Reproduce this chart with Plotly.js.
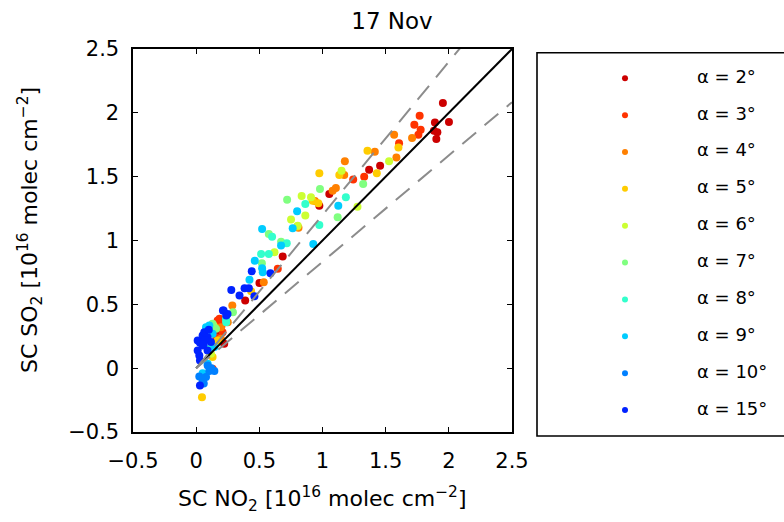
<!DOCTYPE html>
<html>
<head>
<meta charset="utf-8">
<script src="https://cdn.plot.ly/plotly-3.0.1.min.js"></script>
<style>html,body{margin:0;padding:0;background:#fff;}#chart{width:784px;height:522px;}</style>
</head>
<body>
<div id="chart"></div>
<script>
// ---- data (SC NO2 vs SC SO2, 10^16 molec cm^-2) per elevation angle ----
const legendLabels = ['α = 2°','α = 3°','α = 4°','α = 5°','α = 6°','α = 7°','α = 8°','α = 9°','α = 10°','α = 15°'];
const seriesColors = ['#CC0000','#FF3300','#FF8000','#FFCC00','#CCFF33','#80FF80','#33FFCC','#00CCFF','#0080FF','#0022FF'];

const a2x = [1.953, 1.890, 2.001, 1.882, 1.909, 1.901, 1.456, 1.369, 1.054, 0.975, 0.685, 0.388, 0.501, 0.222, 0.183];
const a2y = [2.077, 1.925, 1.928, 1.860, 1.847, 1.795, 1.586, 1.555, 1.365, 1.273, 0.874, 0.530, 0.668, 0.191, 0.269];

const a3x = [1.769, 1.727, 1.777, 1.759, 1.606, 1.330, 1.243, 0.646, 0.170, 0.209, 0.185, 0.172, 0.130, 0.160, 0.200];
const a3y = [1.977, 1.907, 1.868, 1.829, 1.761, 1.500, 1.477, 0.778, 0.373, 0.282, 0.387, 0.348, -0.005, 0.240, 0.330];

const a4x = [1.709, 1.567, 1.585, 1.414, 1.177, 1.172, 1.106, 1.080, 0.940, 0.810, 0.535, 0.286, 0.196, 0.196, 0.250];
const a4y = [1.803, 1.829, 1.651, 1.696, 1.620, 1.513, 1.411, 1.390, 1.310, 1.100, 0.673, 0.491, 0.321, 0.230, 0.360];

const a5x = [1.601, 1.356, 1.430, 1.133, 0.975, 0.922, 0.967, 0.800, 0.435, 0.170, 0.130, 0.046];
const a5y = [1.729, 1.703, 1.526, 1.513, 1.526, 1.312, 1.291, 1.110, 0.603, 0.217, 0.087, -0.227];

const a6x = [1.527, 1.151, 1.277, 0.835, 0.909, 0.864, 0.751, 0.804, 0.620, 0.140, 0.117];
const a6y = [1.620, 1.547, 1.265, 1.349, 1.338, 1.195, 1.165, 1.116, 0.908, 0.330, 0.113];

const a7x = [1.322, 1.120, 0.980, 0.720, 0.672, 0.575, 0.520, 0.291, 0.157, 0.130];
const a7y = [1.443, 1.182, 1.403, 1.320, 0.991, 1.051, 0.822, 0.438, 0.308, 0.347];

const a8x = [1.185, 0.864, 0.975, 0.601, 0.717, 0.514, 0.575, 0.236, 0.238, 0.100];
const a8y = [1.338, 1.286, 1.122, 1.030, 0.978, 0.895, 0.895, 0.386, 0.360, 0.150];

const a9x = [1.125, 0.799, 0.764, 0.522, 0.672, 0.927, 0.464, 0.522, 0.422, 0.527, 0.078, 0.130, 0.144, 0.091, 0.051, 0.104];
const a9y = [1.273, 1.229, 1.096, 1.090, 0.960, 0.973, 0.842, 0.782, 0.692, 0.752, 0.321, 0.269, 0.165, 0.034, -0.039, 0.334];

const a10x = [0.051, 0.078, 0.144, 0.104, 0.025, 0.091, 0.060, 0.120];
const a10y = [-0.100, -0.070, -0.023, -0.023, -0.065, 0.021, -0.120, 0.000];

const a15x = [0.278, 0.383, 0.417, 0.343, 0.461, 0.440, 0.588, 0.212, 0.238, 0.217, 0.248, 0.025, 0.012, 0.012, 0.051, 0.064, 0.090, 0.117, 0.051, 0.090, 0.030, 0.070, 0.100, 0.030, 0.060, 0.030];
const a15y = [0.613, 0.626, 0.626, 0.569, 0.564, 0.759, 0.744, 0.452, 0.412, 0.451, 0.425, 0.100, 0.139, 0.217, 0.256, 0.282, 0.243, 0.204, 0.178, 0.139, 0.200, 0.220, 0.300, 0.060, 0.190, -0.135];

const tickVals = [-0.5, 0, 0.5, 1, 1.5, 2, 2.5];
const tickText = ['\u22120.5', '0', '0.5', '1', '1.5', '2', '2.5'];
const refX = [0, 2.5];            // 1:1 line and ±20 % lines
const refFactors = [1, 1.2, 1/1.2];
const titleText = '17 Nov';
const xTitle = 'SC NO<sub>2</sub> [10<sup>16</sup> molec cm<sup>\u22122</sup>]';
const yTitle = 'SC SO<sub>2</sub> [10<sup>16</sup> molec cm<sup>\u22122</sup>]';

const seriesX = [a2x, a3x, a4x, a5x, a6x, a7x, a8x, a9x, a10x, a15x];
const seriesY = [a2y, a3y, a4y, a5y, a6y, a7y, a8y, a9y, a10y, a15y];

// ---- layout geometry (pixels) ----
const W = 784, H = 522;
const plotL = 133, plotR = 512, plotT = 49, plotB = 432;
const legL = 537, legT = 52.7, legB = 436;
const FONT = 'DejaVu Sans, Liberation Sans, Arial, sans-serif';

const traces = [];
seriesX.forEach((xs, i) => {
  traces.push({
    type: 'scatter', mode: 'markers', x: xs, y: seriesY[i],
    marker: {color: seriesColors[i], size: 8, line: {width: 0}},
    showlegend: false, hoverinfo: 'x+y', xaxis: 'x', yaxis: 'y'
  });
});
// reference lines
refFactors.forEach((f, k) => {
  traces.push({
    type: 'scatter', mode: 'lines', x: refX, y: refX.map(v => v * f),
    line: k === 0 ? {color: '#000000', width: 2} : {color: '#8c8c8c', width: 2, dash: '18px,11px'},
    showlegend: false, hoverinfo: 'skip', xaxis: 'x', yaxis: 'y'
  });
});
// custom legend on its own axes
const legIdx = legendLabels.map((_, i) => i);
traces.push({
  type: 'scatter', mode: 'markers', x: legIdx.map(() => 88), y: legIdx,
  marker: {color: seriesColors, size: 6}, showlegend: false, hoverinfo: 'skip',
  xaxis: 'x2', yaxis: 'y2'
});
traces.push({
  type: 'scatter', mode: 'text', x: legIdx.map(() => 160), y: legIdx,
  text: legendLabels, textposition: 'middle right',
  textfont: {family: FONT, size: 18, color: '#000'},
  showlegend: false, hoverinfo: 'skip', xaxis: 'x2', yaxis: 'y2'
});

const axisCommon = {
  range: [-0.5, 2.5], tickmode: 'array', tickvals: tickVals, ticktext: tickText,
  ticks: 'inside', ticklen: 5, tickwidth: 1.3, tickcolor: '#000',
  showline: true, linecolor: '#000', linewidth: 1.6, mirror: 'ticks',
  showgrid: false, zeroline: false, fixedrange: true,
  tickfont: {family: FONT, size: 21, color: '#000'}
};

const layout = {
  width: W, height: H,
  margin: {l: 0, r: 0, t: 0, b: 0},
  paper_bgcolor: '#fff', plot_bgcolor: '#fff',
  font: {family: FONT, color: '#000'},
  showlegend: false,
  title: {text: titleText, font: {family: FONT, size: 23, color: '#000'},
          x: 0.5, xref: 'container', xanchor: 'center',
          y: 1 - 20.5 / H, yref: 'container', yanchor: 'middle'},
  xaxis: Object.assign({}, axisCommon, {
    domain: [plotL / W, plotR / W], anchor: 'y', ticklabelstandoff: 9
  }),
  yaxis: Object.assign({}, axisCommon, {
    domain: [1 - plotB / H, 1 - plotT / H], anchor: 'x', ticklabelstandoff: 8
  }),
  xaxis2: {domain: [legL / W, 1], anchor: 'y2', range: [0, W - legL],
           visible: false, fixedrange: true},
  yaxis2: {domain: [1 - legB / H, 1 - legT / H], anchor: 'x2',
           range: [9 + (legB - 410) / 36.9, -(78.3 - legT) / 36.9],
           visible: false, fixedrange: true},
  annotations: [
    {text: xTitle, xref: 'paper', yref: 'paper', x: 322.5 / W, y: 1 - 499 / H,
     xanchor: 'center', yanchor: 'middle', showarrow: false,
     font: {family: FONT, size: 22, color: '#000'}},
    {text: yTitle, xref: 'paper', yref: 'paper', x: 30 / W, y: 1 - 230 / H,
     xanchor: 'center', yanchor: 'middle', textangle: -90, showarrow: false,
     font: {family: FONT, size: 22, color: '#000'}}
  ],
  shapes: [{type: 'rect', xref: 'paper', yref: 'paper',
            x0: legL / W, x1: 1.02, y0: 1 - legB / H, y1: 1 - legT / H,
            line: {color: '#000', width: 1.6}, fillcolor: 'rgba(0,0,0,0)'}]
};

Plotly.newPlot('chart', traces, layout, {displayModeBar: false, staticPlot: true});
</script>
</body>
</html>
